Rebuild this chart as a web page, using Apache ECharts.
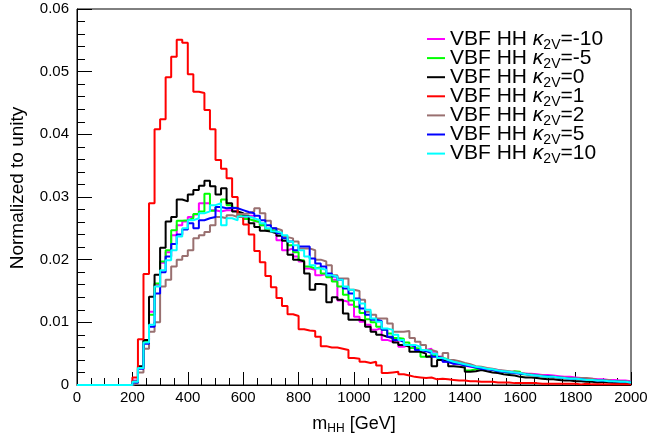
<!DOCTYPE html>
<html>
<head>
<meta charset="utf-8">
<script src="https://cdn.jsdelivr.net/npm/echarts@6/dist/echarts.min.js"></script>
<style>
  html, body { margin: 0; padding: 0; background: #fff; }
  #chart { width: 648px; height: 440px; }
</style>
</head>
<body>
<div id="chart"></div>
<script>
// bin lower edges: 0, 20, ..., 1980 GeV (100 bins)
const binWidth = 20;
const kappas = ['-10', '-5', '0', '1', '2', '5', '10'];
const colors = ['#ff00ff', '#00ff00', '#000000', '#ff0000', '#997070', '#0000ff', '#00ffff'];

const zeros = [0, 0, 0, 0, 0, 0, 0, 0, 0, 0];

const kMinus10 = zeros.concat([
  0.0007, 0.0028, 0.0069, 0.0117, 0.0160, 0.0195, 0.0212, 0.0239, 0.0255, 0.0261,
  0.0268, 0.0272, 0.0290, 0.0290, 0.0279, 0.0277, 0.0279, 0.0279, 0.0277, 0.0268,
  0.0265, 0.0270, 0.0261, 0.0255, 0.0247, 0.0245, 0.0231, 0.0215, 0.0218, 0.0205,
  0.0197, 0.0186, 0.0184, 0.0175, 0.0177, 0.0173, 0.0168, 0.0135, 0.0133, 0.0128,
  0.0109, 0.0101, 0.0096, 0.0088, 0.0091, 0.0072, 0.0069, 0.0072, 0.0061, 0.0064,
  0.0061, 0.0056, 0.0056, 0.0058, 0.0053, 0.0045, 0.0037, 0.0034, 0.0033, 0.0031,
  0.0029, 0.0028, 0.0027, 0.0026, 0.0025, 0.0024, 0.0022, 0.0021, 0.0020, 0.0019,
  0.0018, 0.0018, 0.0017, 0.0016, 0.0016, 0.0015, 0.0014, 0.0013, 0.0013, 0.0012,
  0.0011, 0.0010, 0.0010, 0.0009, 0.0009, 0.0008, 0.0008, 0.0007, 0.0007, 0.0006
]);

const kMinus5 = zeros.concat([
  0.0005, 0.0028, 0.0070, 0.0112, 0.0162, 0.0197, 0.0215, 0.0247, 0.0262, 0.0263,
  0.0266, 0.0273, 0.0277, 0.0305, 0.0278, 0.0284, 0.0296, 0.0287, 0.0283, 0.0271,
  0.0265, 0.0262, 0.0260, 0.0255, 0.0247, 0.0247, 0.0242, 0.0234, 0.0223, 0.0212,
  0.0199, 0.0189, 0.0186, 0.0188, 0.0178, 0.0172, 0.0165, 0.0157, 0.0144, 0.0135,
  0.0125, 0.0115, 0.0105, 0.0100, 0.0093, 0.0088, 0.0082, 0.0075, 0.0074, 0.0068,
  0.0059, 0.0058, 0.0045, 0.0047, 0.0048, 0.0043, 0.0041, 0.0037, 0.0034, 0.0032,
  0.0023, 0.0025, 0.0027, 0.0026, 0.0024, 0.0022, 0.0021, 0.0019, 0.0022, 0.0021,
  0.0017, 0.0016, 0.0015, 0.0014, 0.0013, 0.0013, 0.0012, 0.0011, 0.0011, 0.0010,
  0.0009, 0.0009, 0.0008, 0.0008, 0.0007, 0.0007, 0.0006, 0.0006, 0.0005, 0.0005
]);

const k0 = zeros.concat([
  0.0005, 0.0030, 0.0072, 0.0141, 0.0176, 0.0219, 0.0261, 0.0268, 0.0296, 0.0293,
  0.0304, 0.0311, 0.0318, 0.0326, 0.0317, 0.0304, 0.0314, 0.0290, 0.0277, 0.0274,
  0.0270, 0.0258, 0.0252, 0.0246, 0.0245, 0.0242, 0.0238, 0.0230, 0.0208, 0.0200,
  0.0197, 0.0178, 0.0152, 0.0161, 0.0160, 0.0132, 0.0140, 0.0136, 0.0114, 0.0104,
  0.0104, 0.0103, 0.0093, 0.0085, 0.0080, 0.0077, 0.0075, 0.0068, 0.0064, 0.0061,
  0.0053, 0.0053, 0.0050, 0.0045, 0.0030, 0.0040, 0.0037, 0.0030, 0.0029, 0.0028,
  0.0021, 0.0022, 0.0024, 0.0022, 0.0020, 0.0019, 0.0017, 0.0016, 0.0015, 0.0013,
  0.0012, 0.0012, 0.0011, 0.0010, 0.0009, 0.0009, 0.0008, 0.0007, 0.0007, 0.0006,
  0.0006, 0.0005, 0.0005, 0.0004, 0.0005, 0.0004, 0.0003, 0.0003, 0.0003, 0.0002
]);

const k1 = zeros.concat([
  0.0012, 0.0073, 0.0177, 0.0290, 0.0408, 0.0424, 0.0491, 0.0524, 0.0551, 0.0546,
  0.0496, 0.0468, 0.0466, 0.0439, 0.0408, 0.0359, 0.0345, 0.0330, 0.0300, 0.0268,
  0.0256, 0.0240, 0.0214, 0.0196, 0.0174, 0.0156, 0.0139, 0.0126, 0.0113, 0.0110,
  0.0089, 0.0087, 0.0086, 0.0077, 0.0062, 0.0060, 0.0060, 0.0058, 0.0056, 0.0043,
  0.0042, 0.0037, 0.0035, 0.0037, 0.0031, 0.0019, 0.0020, 0.0021, 0.0017, 0.0015,
  0.0013, 0.0012, 0.0011, 0.0012, 0.0009, 0.0010, 0.0009, 0.0008, 0.0007, 0.0007,
  0.0006, 0.0006, 0.0005, 0.0005, 0.0005, 0.0004, 0.0004, 0.0004, 0.0003, 0.0003,
  0.0003, 0.0003, 0.0003, 0.0002, 0.0002, 0.0002, 0.0002, 0.0002, 0.0002, 0.0002,
  0.0001, 0.0002, 0.0001, 0.0001, 0.0001, 0.0001, 0.0001, 0.0001, 0.0001, 0.0001
]);

const k2 = zeros.concat([
  0.0003, 0.0020, 0.0058, 0.0085, 0.0100, 0.0157, 0.0168, 0.0189, 0.0200, 0.0206,
  0.0215, 0.0234, 0.0239, 0.0244, 0.0255, 0.0268, 0.0266, 0.0271, 0.0268, 0.0273,
  0.0274, 0.0277, 0.0282, 0.0274, 0.0262, 0.0250, 0.0247, 0.0236, 0.0234, 0.0229,
  0.0218, 0.0218, 0.0215, 0.0200, 0.0197, 0.0191, 0.0175, 0.0170, 0.0170, 0.0152,
  0.0150, 0.0136, 0.0117, 0.0112, 0.0106, 0.0106, 0.0098, 0.0085, 0.0085, 0.0086,
  0.0075, 0.0069, 0.0064, 0.0056, 0.0053, 0.0045, 0.0051, 0.0040, 0.0038, 0.0035,
  0.0033, 0.0030, 0.0029, 0.0027, 0.0026, 0.0024, 0.0023, 0.0022, 0.0021, 0.0019,
  0.0018, 0.0017, 0.0016, 0.0015, 0.0014, 0.0013, 0.0012, 0.0012, 0.0011, 0.0010,
  0.0011, 0.0011, 0.0010, 0.0008, 0.0008, 0.0007, 0.0006, 0.0006, 0.0005, 0.0004
]);

const k5 = zeros.concat([
  0.0004, 0.0026, 0.0066, 0.0093, 0.0146, 0.0180, 0.0205, 0.0225, 0.0240, 0.0248,
  0.0258, 0.0250, 0.0263, 0.0266, 0.0268, 0.0284, 0.0282, 0.0283, 0.0282, 0.0279,
  0.0276, 0.0274, 0.0270, 0.0263, 0.0255, 0.0250, 0.0242, 0.0234, 0.0229, 0.0215,
  0.0221, 0.0221, 0.0202, 0.0194, 0.0189, 0.0178, 0.0173, 0.0168, 0.0154, 0.0146,
  0.0138, 0.0122, 0.0112, 0.0104, 0.0102, 0.0088, 0.0077, 0.0072, 0.0069, 0.0064,
  0.0062, 0.0056, 0.0054, 0.0051, 0.0045, 0.0043, 0.0037, 0.0034, 0.0034, 0.0031,
  0.0030, 0.0028, 0.0026, 0.0025, 0.0024, 0.0022, 0.0021, 0.0020, 0.0019, 0.0018,
  0.0017, 0.0016, 0.0015, 0.0014, 0.0014, 0.0013, 0.0012, 0.0011, 0.0010, 0.0010,
  0.0009, 0.0008, 0.0008, 0.0007, 0.0007, 0.0006, 0.0006, 0.0005, 0.0005, 0.0004
]);

const k10 = zeros.concat([
  0.0005, 0.0027, 0.0068, 0.0096, 0.0157, 0.0183, 0.0199, 0.0215, 0.0237, 0.0250,
  0.0263, 0.0266, 0.0274, 0.0277, 0.0287, 0.0290, 0.0255, 0.0266, 0.0263, 0.0269,
  0.0269, 0.0266, 0.0263, 0.0258, 0.0250, 0.0245, 0.0243, 0.0239, 0.0229, 0.0223,
  0.0215, 0.0205, 0.0191, 0.0186, 0.0184, 0.0175, 0.0173, 0.0168, 0.0157, 0.0152,
  0.0136, 0.0130, 0.0120, 0.0106, 0.0101, 0.0090, 0.0088, 0.0080, 0.0072, 0.0064,
  0.0064, 0.0061, 0.0056, 0.0054, 0.0050, 0.0043, 0.0040, 0.0037, 0.0035, 0.0033,
  0.0031, 0.0029, 0.0028, 0.0026, 0.0025, 0.0023, 0.0022, 0.0021, 0.0020, 0.0019,
  0.0017, 0.0016, 0.0015, 0.0014, 0.0013, 0.0013, 0.0012, 0.0011, 0.0010, 0.0010,
  0.0009, 0.0008, 0.0008, 0.0007, 0.0007, 0.0006, 0.0006, 0.0005, 0.0005, 0.0004
]);

const allHists = [kMinus10, kMinus5, k0, k1, k2, k5, k10];

const FONT = '"Liberation Sans", Arial, Helvetica, sans-serif';

// step line through bin lower edges, last point closes the final bin
function toSteps(vals) {
  const pts = vals.map((v, i) => [i * binWidth, v]);
  pts.push([vals.length * binWidth, vals[vals.length - 1]]);
  return pts;
}

const chart = echarts.init(document.getElementById('chart'));

const series = allHists.map((h, i) => ({
  name: 'VBF HH k2V=' + kappas[i],
  type: 'line',
  step: 'end',
  data: toSteps(h),
  showSymbol: false,
  symbol: 'none',
  color: colors[i],
  lineStyle: { color: colors[i], width: 2 },
  z: 2 + i
}));

const legendRich = {
  t: { fontSize: 21, fontFamily: FONT, color: '#000', lineHeight: 19 },
  k: { fontSize: 21, fontFamily: FONT, fontStyle: 'italic', color: '#000', lineHeight: 19 },
  s: { fontSize: 14, fontFamily: FONT, color: '#000', lineHeight: 19, padding: [12, 0, 0, 0] }
};

chart.setOption({
  animation: false,
  backgroundColor: '#fff',
  grid: {
    left: 77, right: 17, top: 9, bottom: 55,
    show: true, borderColor: '#000', borderWidth: 1,
    outerBoundsMode: 'none'
  },
  legend: {
    orient: 'vertical',
    left: 422,
    top: 21,
    icon: 'rect',
    itemWidth: 18,
    itemHeight: 2,
    itemGap: -6.9,
    itemTextGap: 4,
    data: series.map(s => s.name),
    formatter: name => {
      const k = name.split('=')[1];
      return '{t|VBF HH }{k|κ}{s|2V}{t|=' + k + '}';
    },
    textStyle: { rich: legendRich }
  },
  xAxis: {
    type: 'value',
    min: 0,
    max: 2000,
    interval: 200,
    name: '{m|m}{s|HH}{m| [GeV]}',
    nameLocation: 'middle',
    nameGap: 29,
    nameTextStyle: {
      rich: {
        m: { fontSize: 18, fontFamily: FONT, color: '#000' },
        s: { fontSize: 12, fontFamily: FONT, color: '#000', padding: [9, 0, 0, 0] }
      }
    },
    axisLine: { lineStyle: { color: '#000', width: 1 } },
    axisTick: { inside: true, length: 13, lineStyle: { color: '#000' } },
    minorTick: { show: true, splitNumber: 4, length: 7, lineStyle: { color: '#000' } },
    splitLine: { show: false },
    axisLabel: {
      fontSize: 15, fontFamily: FONT, color: '#000', margin: 5,
      formatter: v => String(v)
    }
  },
  yAxis: {
    type: 'value',
    min: 0,
    max: 0.06,
    interval: 0.01,
    name: 'Normalized to unity',
    nameLocation: 'middle',
    nameGap: 50,
    nameTextStyle: { fontSize: 19, fontFamily: FONT, color: '#000', padding: [0, 0, 0, 18] },
    axisLine: { show: true, lineStyle: { color: '#000', width: 1 } },
    axisTick: { show: true, inside: true, length: 15, lineStyle: { color: '#000' } },
    minorTick: { show: true, splitNumber: 5, length: 8, lineStyle: { color: '#000' } },
    splitLine: { show: false },
    axisLabel: {
      fontSize: 15, fontFamily: FONT, color: '#000', margin: 8,
      formatter: v => (v === 0 ? '0' : v.toFixed(2))
    }
  },
  series: series
});

window.addEventListener('resize', () => chart.resize());
</script>
</body>
</html>
